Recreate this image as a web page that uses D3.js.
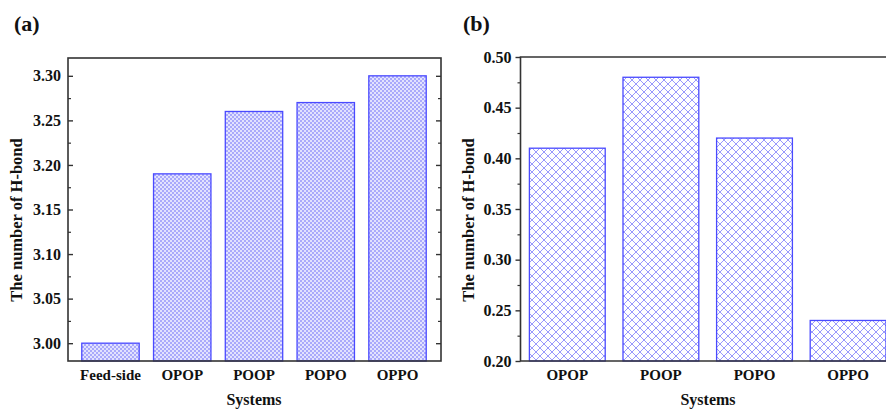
<!DOCTYPE html>
<html>
<head>
<meta charset="utf-8">
<script src="https://cdn.jsdelivr.net/npm/d3@7"></script>
<style>
  html, body { margin: 0; padding: 0; background: #fff; }
  svg text { font-family: "Liberation Serif", "Times New Roman", serif; font-weight: bold; fill: #111; }
</style>
</head>
<body>
<svg id="chart" width="886" height="409"></svg>
<script>
// H-bond counts per system
const systemsA = ["Feed-side", "OPOP", "POOP", "POPO", "OPPO"];
const hbondA = [3.00, 3.19, 3.26, 3.27, 3.30];
const ticksA = [3.00, 3.05, 3.10, 3.15, 3.20, 3.25, 3.30];

const systemsB = ["OPOP", "POOP", "POPO", "OPPO"];
const hbondB = [0.41, 0.48, 0.42, 0.24];
const ticksB = [0.20, 0.25, 0.30, 0.35, 0.40, 0.45, 0.50];

const svg = d3.select("#chart");
const defs = svg.append("defs");
const axisColor = "#333";
const barEdge = "#4a4aff";
const tickFont = "16px", catFont = "15px", titleFont = "16px";

// fine checker hatch for panel (a)
const pa = defs.append("pattern").attr("id", "fineHatch")
  .attr("patternUnits", "userSpaceOnUse").attr("width", 4).attr("height", 4);
pa.append("rect").attr("width", 4).attr("height", 4).attr("fill", "#e2e2fe");
pa.append("rect").attr("x", 0).attr("y", 0).attr("width", 2).attr("height", 2).attr("fill", "#a9a9fb");
pa.append("rect").attr("x", 2).attr("y", 2).attr("width", 2).attr("height", 2).attr("fill", "#a9a9fb");

// diamond cross-hatch for panel (b)
const pb = defs.append("pattern").attr("id", "diamondHatch")
  .attr("patternUnits", "userSpaceOnUse").attr("width", 8).attr("height", 8);
pb.append("rect").attr("width", 8).attr("height", 8).attr("fill", "#fff");
pb.append("path").attr("d", "M0,0L8,8M8,0L0,8M-4,4L4,-4M4,12L12,4M-4,4L4,12M4,-4L12,4")
  .attr("stroke", "#8d8dfc").attr("stroke-width", 0.9).attr("fill", "none");

function minorValues(major) {
  const out = [];
  for (let i = 0; i < major.length - 1; i++) out.push((major[i] + major[i + 1]) / 2);
  return out;
}

// ---------- Panel (a) ----------
{
  const left = 68, right = 441, top = 58, bottom = 361;
  const x = d3.scaleLinear().domain([-0.592, 4.606]).range([left, right]);
  const y = d3.scaleLinear().domain([2.98, 3.32]).range([bottom, top]);
  const step = x(1) - x(0), bw = step * 0.8;
  const g = svg.append("g");

  g.selectAll("rect.bar").data(hbondA).join("rect").attr("class", "bar")
    .attr("x", (d, i) => x(i) - bw / 2).attr("width", bw)
    .attr("y", d => y(d)).attr("height", d => bottom - y(d))
    .attr("fill", "url(#fineHatch)").attr("stroke", barEdge).attr("stroke-width", 1.3);

  // frame
  g.append("rect").attr("x", left).attr("y", top).attr("width", right - left).attr("height", bottom - top)
    .attr("fill", "none").attr("stroke", axisColor).attr("stroke-width", 1.6);

  // left axis, inward ticks
  const yl = d3.axisLeft(y).tickValues(ticksA).tickFormat(d3.format(".2f")).tickSize(-5).tickPadding(7);
  const gl = g.append("g").attr("transform", `translate(${left},0)`).call(yl);
  gl.select(".domain").remove();
  gl.selectAll(".tick line").attr("stroke", axisColor).attr("stroke-width", 1.4);
  gl.selectAll(".tick text").style("font-size", tickFont);
  g.append("g").attr("transform", `translate(${left},0)`)
    .call(d3.axisLeft(y).tickValues(minorValues(ticksA)).tickFormat("").tickSize(-3))
    .call(s => { s.select(".domain").remove(); s.selectAll("line").attr("stroke", axisColor).attr("stroke-width", 1.2); });

  // right axis, inward ticks
  g.append("g").attr("transform", `translate(${right},0)`)
    .call(d3.axisRight(y).tickValues(ticksA).tickFormat("").tickSize(-5))
    .call(s => { s.select(".domain").remove(); s.selectAll("line").attr("stroke", axisColor).attr("stroke-width", 1.4); });
  g.append("g").attr("transform", `translate(${right},0)`)
    .call(d3.axisRight(y).tickValues(minorValues(ticksA)).tickFormat("").tickSize(-3))
    .call(s => { s.select(".domain").remove(); s.selectAll("line").attr("stroke", axisColor).attr("stroke-width", 1.2); });

  // category labels
  g.selectAll("text.cat").data(systemsA).join("text").attr("class", "cat")
    .attr("x", (d, i) => x(i)).attr("y", 380).attr("text-anchor", "middle")
    .style("font-size", catFont).text(d => d);

  g.append("text").attr("x", 254).attr("y", 405).attr("text-anchor", "middle")
    .style("font-size", titleFont).text("Systems");
  g.append("text").attr("transform", `translate(21.5,220) rotate(-90)`).attr("text-anchor", "middle")
    .style("font-size", "16.5px").text("The number of H-bond");
  g.append("text").attr("x", 14).attr("y", 31).style("font-size", "22px").text("(a)");
}

// ---------- Panel (b) ----------
{
  const left = 520.5, top = 57, bottom = 361, right = 886;
  const x = d3.scaleLinear().domain([-0.5, 3.5]).range([left, left + 4 * 93.6]);
  const y = d3.scaleLinear().domain([0.20, 0.50]).range([bottom, top]);
  const step = x(1) - x(0), bw = step * 0.81;
  const g = svg.append("g");

  g.selectAll("rect.bar").data(hbondB).join("rect").attr("class", "bar")
    .attr("x", (d, i) => x(i) - bw / 2).attr("width", bw)
    .attr("y", d => y(d)).attr("height", d => bottom - y(d))
    .attr("fill", "url(#diamondHatch)").attr("stroke", barEdge).attr("stroke-width", 1.3);

  // axes lines: left, bottom, top
  g.append("path").attr("d", `M${right},${top}H${left}V${bottom}H${right}`)
    .attr("fill", "none").attr("stroke", axisColor).attr("stroke-width", 1.6);

  const yl = d3.axisLeft(y).tickValues(ticksB).tickFormat(d3.format(".2f")).tickSize(5).tickPadding(4);
  const gl = g.append("g").attr("transform", `translate(${left},0)`).call(yl);
  gl.select(".domain").remove();
  gl.selectAll(".tick line").attr("stroke", axisColor).attr("stroke-width", 1.4);
  gl.selectAll(".tick text").style("font-size", tickFont);
  g.append("g").attr("transform", `translate(${left},0)`)
    .call(d3.axisLeft(y).tickValues(minorValues(ticksB)).tickFormat("").tickSize(3))
    .call(s => { s.select(".domain").remove(); s.selectAll("line").attr("stroke", axisColor).attr("stroke-width", 1.2); });

  g.selectAll("text.cat").data(systemsB).join("text").attr("class", "cat")
    .attr("x", (d, i) => x(i)).attr("y", 380).attr("text-anchor", "middle")
    .style("font-size", catFont).text(d => d);

  g.append("text").attr("x", 708).attr("y", 405).attr("text-anchor", "middle")
    .style("font-size", titleFont).text("Systems");
  g.append("text").attr("transform", `translate(474,220) rotate(-90)`).attr("text-anchor", "middle")
    .style("font-size", "16.5px").text("The number of H-bond");
  g.append("text").attr("x", 463).attr("y", 31).style("font-size", "22px").text("(b)");
}
</script>
</body>
</html>
